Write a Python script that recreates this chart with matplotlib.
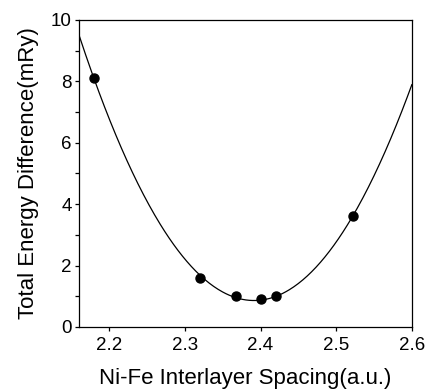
import numpy as np
import matplotlib.pyplot as plt
from matplotlib.ticker import MultipleLocator

plt.rcParams['font.family'] = ['Liberation Sans', 'DejaVu Sans']

spacing = [2.18, 2.32, 2.368, 2.40, 2.42, 2.522]
energy = [8.1, 1.6, 1.0, 0.9, 1.0, 3.6]

x_ticks = [2.2, 2.3, 2.4, 2.5, 2.6]
y_ticks = [0, 2, 4, 6, 8, 10]

fig = plt.figure(figsize=(4.29, 3.92), dpi=100)
ax = fig.add_axes([0.184, 0.166, 0.776, 0.783])

# quadratic fit through the points, drawn over the whole axis range
coef = np.polyfit(spacing, energy, 2)
xs = np.linspace(2.16, 2.6, 300)
ax.plot(xs, np.polyval(coef, xs), color='black', lw=0.9)
ax.plot(spacing, energy, 'o', color='black', ms=6.5)

ax.set_xlim(2.16, 2.6)
ax.set_ylim(0, 10)
ax.set_xticks(x_ticks)
ax.set_yticks(y_ticks)
ax.yaxis.set_minor_locator(MultipleLocator(1))
ax.set_xticklabels([f'{v:.1f}' for v in x_ticks])
ax.tick_params(direction='out', length=3, width=0.9, labelsize=13.5)
ax.tick_params(axis='x', pad=4.5)
ax.tick_params(axis='y', pad=2)
ax.tick_params(which='minor', direction='out', length=3, width=0.9)

for s in ax.spines.values():
    s.set_linewidth(0.9)

ax.set_xlabel('Ni-Fe Interlayer Spacing(a.u.)', fontsize=16, labelpad=10)
ax.set_ylabel('Total Energy Difference(mRy)', fontsize=16, labelpad=9)

fig.savefig('out.png', dpi=100)
